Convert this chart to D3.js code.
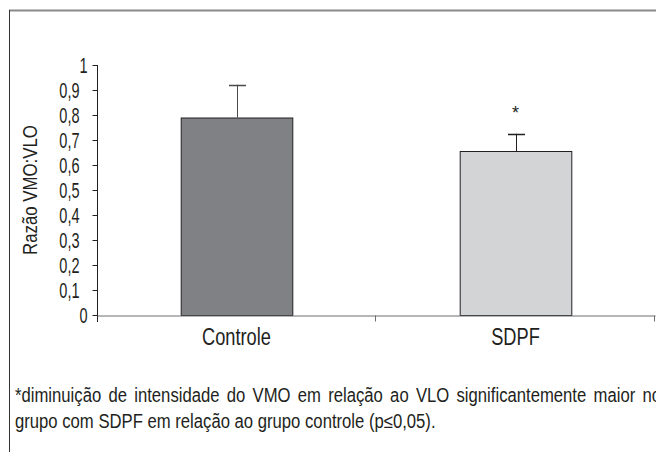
<!DOCTYPE html>
<html>
<head>
<meta charset="utf-8">
<script src="https://cdn.jsdelivr.net/npm/d3@7"></script>
<style>
    html, body { margin: 0; padding: 0; background: #fff; }
    svg { display: block; }
    text { font-family: "Liberation Sans", Arial, sans-serif; fill: #231f20; }
</style>
</head>
<body>
<div class="chart-container"></div>
<script>
// --- Data ---
const groups = ["Controle", "SDPF"];
const means = [0.79, 0.656];
const errors = [0.131, 0.069];
const significant = [false, true];
const yTicks = [0, 0.1, 0.2, 0.3, 0.4, 0.5, 0.6, 0.7, 0.8, 0.9, 1];
const yTitle = "Razão VMO:VLO";
const footnote = [
    "*diminuição de intensidade do VMO em relação ao VLO significantemente maior no",
    "grupo com SDPF em relação ao grupo controle (p≤0,05)."
];
const barColors = ["#808184", "#d3d4d6"];

const dimensions = {
    width: 656,
    height: 454,
    margin: { top: 65, right: 1, bottom: 139, left: 97 }
};

// squeeze a text horizontally around its anchor (the original uses a condensed face)
function condense(selection, k) {
    selection.each(function() {
        const t = d3.select(this);
        const x = +t.attr("x") || 0;
        const y = +t.attr("y") || 0;
        t.attr("x", 0).attr("y", 0)
            .attr("transform", `translate(${x},${y}) scale(${k},1)`);
    });
}

const svg = d3.select(".chart-container").append("svg")
    .attr("width", dimensions.width)
    .attr("height", dimensions.height);

// frame lines of the figure box
svg.append("line")
    .attr("x1", 9).attr("x2", dimensions.width)
    .attr("y1", 10.5).attr("y2", 10.5)
    .attr("stroke", "#8a8a8a").attr("stroke-width", 2);
svg.append("line")
    .attr("x1", 9.5).attr("x2", 9.5)
    .attr("y1", 10).attr("y2", 452)
    .attr("stroke", "#333");

const xScale = d3.scaleBand()
    .domain(groups)
    .range([dimensions.margin.left, dimensions.width - dimensions.margin.right])
    .paddingInner(0)
    .paddingOuter(0);

const yScale = d3.scaleLinear()
    .domain([0, 1])
    .range([dimensions.height - dimensions.margin.bottom, dimensions.margin.top]);

const barWidth = xScale.bandwidth() * 0.4;
const y0 = yScale(0);

// --- Bars ---
svg.selectAll(".bar")
    .data(groups)
    .enter()
    .append("rect")
    .attr("class", "bar")
    .attr("x", d => xScale(d) + (xScale.bandwidth() - barWidth) / 2 + 0.5)
    .attr("width", barWidth)
    .attr("y", (d, i) => yScale(means[i]) + 0.5)
    .attr("height", (d, i) => y0 - yScale(means[i]))
    .attr("fill", (d, i) => barColors[i])
    .attr("stroke", "#231f20")
    .attr("stroke-width", 1);

// --- Error bars (upper only) ---
const cx = d => Math.round(xScale(d) + xScale.bandwidth() / 2) + 0.5;
const err = svg.selectAll(".err")
    .data(groups)
    .enter()
    .append("g")
    .attr("class", "err")
    .attr("stroke", (d, i) => i === 0 ? "#4a4a4c" : "#231f20");

err.append("line")
    .attr("x1", cx).attr("x2", cx)
    .attr("y1", (d, i) => yScale(means[i]))
    .attr("y2", (d, i) => yScale(means[i] + errors[i]));

err.append("line")
    .attr("x1", d => cx(d) - 8.5).attr("x2", d => cx(d) + 8.5)
    .attr("y1", (d, i) => Math.round(yScale(means[i] + errors[i])) + 0.5)
    .attr("y2", (d, i) => Math.round(yScale(means[i] + errors[i])) + 0.5)
    .attr("stroke-width", 1.5);

// significance marker
svg.selectAll(".sig")
    .data(groups.filter((d, i) => significant[i]))
    .enter()
    .append("text")
    .attr("class", "sig")
    .attr("x", d => cx(d) - 1)
    .attr("y", d => yScale(means[groups.indexOf(d)] + errors[groups.indexOf(d)]) - 15)
    .attr("text-anchor", "middle")
    .style("font-size", "18px")
    .text("*");

// --- Y axis ---
const yAxis = svg.append("g")
    .attr("class", "y-axis")
    .attr("transform", `translate(${dimensions.margin.left + 0.5},0)`)
    .call(d3.axisLeft(yScale)
        .tickValues(yTicks)
        .tickSize(5)
        .tickSizeOuter(0)
        .tickPadding(5)
        .tickFormat(d => d3.format(".1~f")(d).replace(".", ",")));

yAxis.select(".domain")
    .attr("stroke", "#231f20")
    .attr("d", `M0,${yScale(1)}V${y0 + 7}`);
yAxis.selectAll(".tick line").attr("stroke", "#231f20");
yAxis.selectAll(".tick text")
    .attr("x", d => Number.isInteger(d) ? -10 : -18)
    .attr("dy", "0.36em")
    .style("font-size", "22px")
    .attr("fill", "#231f20")
    .call(condense, 0.66);

// --- X axis ---
const xAxis = svg.append("g")
    .attr("class", "x-axis")
    .attr("transform", `translate(0,${Math.round(y0) + 0.5})`)
    .call(d3.axisBottom(xScale).tickSize(0).tickPadding(12));

xAxis.select(".domain").attr("stroke", "#6d6e71");
xAxis.selectAll(".tick text")
    .attr("y", 29)
    .attr("dy", null)
    .style("font-size", "24px")
    .attr("fill", "#231f20")
    .call(condense, 0.76);

// tick marks at the category boundaries
const edges = groups.map(d => xScale(d)).concat([xScale.range()[1]]);
xAxis.selectAll(".edge")
    .data(edges.slice(1))
    .enter()
    .append("line")
    .attr("class", "edge")
    .attr("x1", d => Math.round(d) - 0.5).attr("x2", d => Math.round(d) - 0.5)
    .attr("y1", 0).attr("y2", 6)
    .attr("stroke", "#6d6e71");

// --- Y axis title ---
svg.append("text")
    .attr("transform", `translate(37,${(yScale(0) + yScale(1)) / 2}) rotate(-90) scale(0.82,1)`)
    .attr("text-anchor", "middle")
    .style("font-size", "20.5px")
    .text(yTitle);

// --- Footnote (first line justified) ---
const noteLeft = 15;
const noteRight = 661;
const noteK = 0.86;
const notes = svg.selectAll(".note")
    .data(footnote)
    .enter()
    .append("text")
    .attr("class", "note")
    .attr("x", noteLeft)
    .attr("y", (d, i) => 402 + i * 26)
    .style("font-size", "19.4px")
    .text(d => d)
    .call(condense, noteK);

notes.filter((d, i) => i === 0).each(function(d) {
    const natural = this.getComputedTextLength();
    const spaces = d.split(" ").length - 1;
    d3.select(this).attr("word-spacing", Math.max(0, ((noteRight - noteLeft) / noteK - natural) / spaces));
});
</script>
</body>
</html>
